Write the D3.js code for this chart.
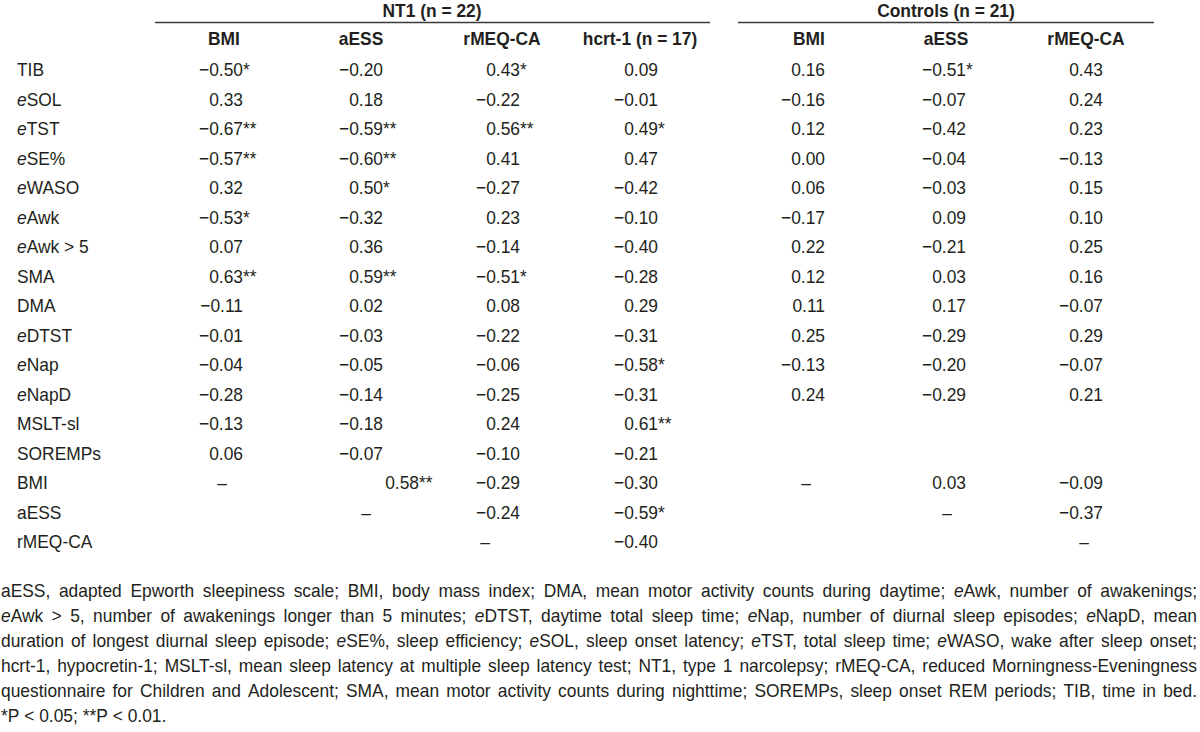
<!DOCTYPE html>
<html>
<head>
<meta charset="utf-8">
<script src="https://cdn.jsdelivr.net/npm/d3@7"></script>
<style>
  html, body { margin: 0; padding: 0; background: #ffffff; }
  svg text { font-family: "Liberation Sans", Arial, Helvetica, sans-serif; fill: #231f20; }
</style>
</head>
<body>
<svg id="chart" width="1200" height="732"></svg>
<script>
// ---------------- DATA ----------------
const rowLabels = ["TIB", "eSOL", "eTST", "eSE%", "eWASO", "eAwk", "eAwk > 5", "SMA", "DMA",
  "eDTST", "eNap", "eNapD", "MSLT-sl", "SOREMPs", "BMI", "aESS", "rMEQ-CA"];

const groupTitles = ["NT1 (n = 22)", "Controls (n = 21)"];
const nt1Headers = ["BMI", "aESS", "rMEQ-CA", "hcrt-1 (n = 17)"];
const ctrlHeaders = ["BMI", "aESS", "rMEQ-CA"];

// "*" P < 0.05, "**" P < 0.01, "–" diagonal, "" empty
const nt1BMI   = ["-0.50*", "0.33", "-0.67**", "-0.57**", "0.32", "-0.53*", "0.07", "0.63**", "-0.11", "-0.01", "-0.04", "-0.28", "-0.13", "0.06", "–", "", ""];
const nt1aESS  = ["-0.20", "0.18", "-0.59**", "-0.60**", "0.50*", "-0.32", "0.36", "0.59**", "0.02", "-0.03", "-0.05", "-0.14", "-0.18", "-0.07", "0.58**", "–", ""];
const nt1rMEQ  = ["0.43*", "-0.22", "0.56**", "0.41", "-0.27", "0.23", "-0.14", "-0.51*", "0.08", "-0.22", "-0.06", "-0.25", "0.24", "-0.10", "-0.29", "-0.24", "–"];
const nt1Hcrt  = ["0.09", "-0.01", "0.49*", "0.47", "-0.42", "-0.10", "-0.40", "-0.28", "0.29", "-0.31", "-0.58*", "-0.31", "0.61**", "-0.21", "-0.30", "-0.59*", "-0.40"];
const ctrlBMI  = ["0.16", "-0.16", "0.12", "0.00", "0.06", "-0.17", "0.22", "0.12", "0.11", "0.25", "-0.13", "0.24", "", "", "–", "", ""];
const ctrlaESS = ["-0.51*", "-0.07", "-0.42", "-0.04", "-0.03", "0.09", "-0.21", "0.03", "0.17", "-0.29", "-0.20", "-0.29", "", "", "0.03", "–", ""];
const ctrlrMEQ = ["0.43", "0.24", "0.23", "-0.13", "0.15", "0.10", "0.25", "0.16", "-0.07", "0.29", "-0.07", "0.21", "", "", "-0.09", "-0.37", "–"];

const footnoteLines = [
  "aESS, adapted Epworth sleepiness scale; BMI, body mass index; DMA, mean motor activity counts during daytime; eAwk, number of awakenings;",
  "eAwk > 5, number of awakenings longer than 5 minutes; eDTST, daytime total sleep time; eNap, number of diurnal sleep episodes; eNapD, mean",
  "duration of longest diurnal sleep episode; eSE%, sleep efficiency; eSOL, sleep onset latency; eTST, total sleep time; eWASO, wake after sleep onset;",
  "hcrt-1, hypocretin-1; MSLT-sl, mean sleep latency at multiple sleep latency test; NT1, type 1 narcolepsy; rMEQ-CA, reduced Morningness-Eveningness",
  "questionnaire for Children and Adolescent; SMA, mean motor activity counts during nighttime; SOREMPs, sleep onset REM periods; TIB, time in bed.",
  "*P < 0.05; **P < 0.01."
];

// ---------------- LAYOUT ----------------
const FS = 18.6, SX = 0.935;
const columns = [
  {key: "nt1BMI",  head: nt1Headers[0], vals: nt1BMI},
  {key: "nt1aESS", head: nt1Headers[1], vals: nt1aESS},
  {key: "nt1rMEQ", head: nt1Headers[2], vals: nt1rMEQ},
  {key: "nt1Hcrt", head: nt1Headers[3], vals: nt1Hcrt},
  {key: "ctrlBMI", head: ctrlHeaders[0], vals: ctrlBMI},
  {key: "ctrlaESS",head: ctrlHeaders[1], vals: ctrlaESS},
  {key: "ctrlrMEQ",head: ctrlHeaders[2], vals: ctrlrMEQ}
];
const keys = columns.map(c => c.key);
const xRight  = d3.scaleOrdinal().domain(keys).range([243, 383, 520, 658, 825, 966, 1103]);
const xHead   = d3.scaleOrdinal().domain(keys).range([224, 361, 502, 640, 809, 946, 1086]);
const xDash   = d3.scaleOrdinal().domain(keys).range([222, 366, 485, 640, 806, 947, 1084]);
const y = d3.scaleLinear().domain([0, rowLabels.length - 1]).range([76, 548]);
const cellShift = {"14|nt1aESS": 36};

const groups = [
  {title: groupTitles[0], x0: 155, x1: 710, cx: 432},
  {title: groupTitles[1], x0: 738, x1: 1154, cx: 946}
];

const svg = d3.select("#chart");

function addText(sel, str, x, yy, anchor, opts = {}) {
  const t = sel.append("text")
    .attr("transform", `translate(${x},${yy}) scale(${SX},1)`)
    .attr("text-anchor", anchor)
    .style("font-size", FS + "px");
  if (opts.bold) t.style("font-weight", "bold");
  return t;
}
function fillLabel(t, str) {
  const m = str.match(/^e(?=[A-Z])/);
  if (m) {
    t.append("tspan").style("font-style", "italic").text("e");
    t.append("tspan").text(str.slice(1));
  } else {
    t.text(str);
  }
  return t;
}
const fmt = v => (v < 0 ? "\u2212" : "") + Math.abs(v).toFixed(2);

// group titles + rules
groups.forEach(g => {
  addText(svg, g.title, g.cx, 17, "middle", {bold: true}).text(g.title);
  svg.append("line").attr("x1", g.x0).attr("x2", g.x1).attr("y1", 22.5).attr("y2", 22.5)
    .attr("stroke", "#3a3a3a").attr("stroke-width", 1.4);
});

// column headers
columns.forEach(c => {
  addText(svg, c.head, xHead(c.key), 45, "middle", {bold: true}).text(c.head);
});

// row labels
rowLabels.forEach((lab, i) => {
  fillLabel(addText(svg, lab, 17, y(i), "start"), lab);
});

// cells
columns.forEach(c => {
  c.vals.forEach((s, i) => {
    if (s === "") return;
    if (s === "–") {
      addText(svg, s, xDash(c.key), y(i), "middle").text("\u2013");
      return;
    }
    const v = parseFloat(s);
    const stars = (s.match(/\*+/) || [""])[0];
    const xr = xRight(c.key) + (cellShift[i + "|" + c.key] || 0);
    addText(svg, s, xr, y(i), "end").text(fmt(v));
    if (stars) addText(svg, stars, xr, y(i), "start").text(stars);
  });
});

// footnote (justified)
const fy = d3.scaleLinear().domain([0, footnoteLines.length - 1]).range([597, 722]);
const LEFT = 1, RIGHT = 1197;
footnoteLines.forEach((line, li) => {
  const words = line.split(" ");
  const nodes = words.map(w => {
    const t = addText(svg, w, 0, fy(li), "start");
    fillLabel(t, w);
    return t;
  });
  const widths = nodes.map(n => n.node().getComputedTextLength() * SX);
  const total = d3.sum(widths);
  const last = li === footnoteLines.length - 1;
  const spaceW = FS * 0.278 * SX;
  const gap = last ? spaceW : (RIGHT - LEFT - total) / (words.length - 1);
  let x = LEFT;
  nodes.forEach((n, k) => {
    n.attr("transform", `translate(${x},${fy(li)}) scale(${SX},1)`);
    x += widths[k] + gap;
  });
});
</script>
</body>
</html>
